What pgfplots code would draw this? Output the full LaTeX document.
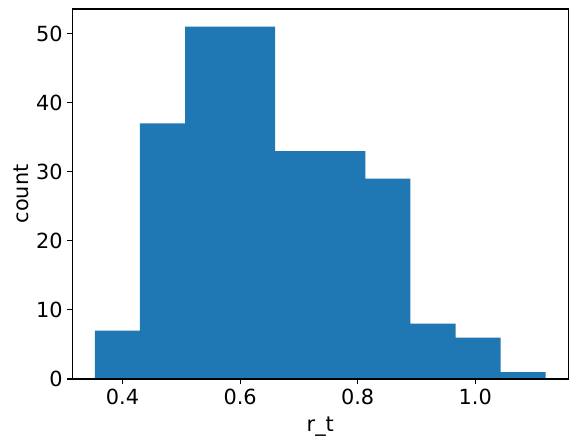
\documentclass[border=0pt]{standalone}
\usepackage{fontspec}
\setmainfont{DejaVu Sans}
\usepackage{pgfplots}
\pgfplotsset{compat=1.18}
\usetikzlibrary{calc}
\definecolor{mplblue}{HTML}{1F77B4}

% bin edges and counts; the last edge repeats the last count
\pgfplotstableread{
edge count
0.3529 7
0.4296 37
0.5063 51
0.5830 51
0.6597 33
0.7364 33
0.8131 29
0.8898 8
0.9665 6
1.0432 1
1.1199 1
}\histdata

\begin{document}
\begin{tikzpicture}
\begin{axis}[
    name=ax,
    scale only axis,
    width=357.1pt,
    height=266.4pt,
    xmin=0.3145, xmax=1.1583,
    ymin=0, ymax=53.55,
    axis on top,
    xtick={0.4,0.6,0.8,1.0},
    ytick={0,10,20,30,40,50},
    xticklabel style={/pgf/number format/fixed, /pgf/number format/fixed zerofill, /pgf/number format/precision=1},
    /pgf/number format/assume math mode=true,
    tick align=outside,
    tick pos=left,
    major tick length=3.5pt,
    every tick/.style={black, line width=0.8pt},
    axis line style={line width=0.8pt},
    ticklabel style={font=\fontsize{15}{18}\selectfont},
    label style={font=\fontsize{15}{18}\selectfont},
    xlabel={r\_t},
    ylabel={count},
    xlabel style={yshift=-2pt},
    ylabel style={yshift=-1.5pt},
]
\addplot[ybar interval, fill=mplblue, draw=none] table[x=edge, y=count] {\histdata};
\end{axis}
\pgfresetboundingbox
\path[use as bounding box] ($(ax.south west)+(-52.06pt,-46.8pt)$) rectangle ($(ax.north east)+(6.3pt,6.5pt)$);
\end{tikzpicture}
\end{document}
